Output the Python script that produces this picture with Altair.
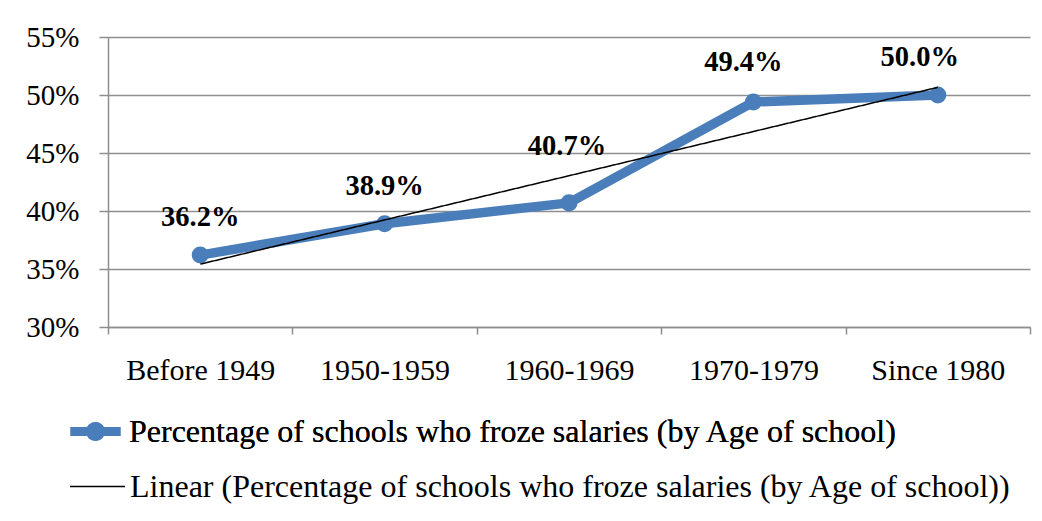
import json
import altair as alt
import pandas as pd

# ---- data ----
categories = ["Before 1949", "1950-1959", "1960-1969", "1970-1979", "Since 1980"]
values = [0.362, 0.389, 0.407, 0.494, 0.500]
y_ticks = [0.30, 0.35, 0.40, 0.45, 0.50, 0.55]
series_name = "Percentage of schools who froze salaries (by Age of school)"
trend_name = "Linear (Percentage of schools who froze salaries (by Age of school))"

df = pd.DataFrame({"category": categories, "value": values,
                   "idx": list(range(1, len(categories) + 1))})

FONT = "Liberation Serif"
BLUE = "#4A7EBB"
GRID = "#8E8E8E"

# label nudges (style only): category -> (dx, dy)
label_offsets = {
    "Before 1949": (0, -38),
    "1950-1959": (0, -38),
    "1960-1969": (-2, -57),
    "1970-1979": (-10, -40),
    "Since 1980": (-18, -38),
}

x_enc = alt.X(
    "category:O", sort=categories,
    scale=alt.Scale(type="band", paddingInner=0, paddingOuter=0),
    axis=alt.Axis(title=None, labelAngle=0, tickBand="extent", tickSize=7,
                  labelPadding=21, grid=False, domainColor=GRID, tickColor=GRID,
                  domainWidth=1.5, tickWidth=1.5, labelFont=FONT,
                  labelFontSize=30, labelColor="black"),
)
y_enc = alt.Y(
    "value:Q",
    scale=alt.Scale(domain=[0.30, 0.55], nice=False, zero=False),
    axis=alt.Axis(title=None, values=y_ticks, format=".0%", tickSize=9,
                  labelPadding=20, grid=True, gridColor=GRID, gridWidth=1.5,
                  domainColor=GRID, tickColor=GRID, domainWidth=1.5, tickWidth=1.5,
                  labelFont=FONT, labelFontSize=29, labelColor="black"),
)

circle_path = ("M-1,0H1M-0.2,0A0.2,0.2 0 1,1 0.2,0"
               "A0.2,0.2 0 1,1 -0.2,0Z")
legend_kw = dict(title=None, orient="none", direction="vertical",
                 labelFont=FONT, labelFontSize=32, labelColor="black",
                 rowPadding=0, padding=0, labelLimit=1000)

color_scale = alt.Scale(domain=[series_name], range=[BLUE])
series_legend = alt.Legend(legendX=-42, legendY=365, symbolType=circle_path,
                           symbolSize=2500, labelOffset=4,
                           symbolStrokeWidth=9, symbolFillColor=BLUE,
                           symbolStrokeColor=BLUE, symbolOpacity=1, **legend_kw)
trend_legend = alt.Legend(legendX=-39, legendY=421, symbolType="M-1,0H1",
                          symbolSize=3025, labelOffset=4,
                          symbolStrokeWidth=1.5, symbolStrokeColor="black",
                          symbolFillColor="transparent", **legend_kw)

base = alt.Chart(df).transform_calculate(series=json.dumps(series_name))

line = base.mark_line(strokeWidth=9.5, strokeJoin="round").encode(
    x=x_enc, y=y_enc,
    color=alt.Color("series:N", scale=color_scale, legend=series_legend),
)
points = base.mark_point(filled=True, size=290, opacity=1).encode(
    x=alt.X("category:O", sort=categories), y="value:Q",
    color=alt.Color("series:N", scale=color_scale, legend=series_legend),
)

trend = alt.Chart(df).transform_regression(
    "idx", "value", extent=[1, len(categories)]
).transform_calculate(
    category=f"{json.dumps(categories)}[datum.idx - 1]",
    series=json.dumps(trend_name),
).mark_line(strokeWidth=1.5, color="black").encode(
    x=alt.X("category:O", sort=categories), y="value:Q",
    strokeDash=alt.StrokeDash("series:N",
                              scale=alt.Scale(domain=[trend_name], range=[[1, 0]]),
                              legend=trend_legend),
)

texts = []
for cat in categories:
    dx, dy = label_offsets[cat]
    texts.append(
        alt.Chart(df).transform_filter(alt.datum.category == cat).mark_text(
            font=FONT, fontSize=28.5, fontWeight="bold", color="black",
            dx=dx, dy=dy, baseline="middle", align="center",
        ).encode(
            x=alt.X("category:O", sort=categories), y="value:Q",
            text=alt.Text("value:Q", format=".1%"),
        )
    )

chart = alt.layer(line, points, trend, *texts).resolve_legend(
    color="independent", strokeDash="independent"
).properties(
    width=922, height=290,
    autosize=alt.AutoSizeParams(type="none"),
    padding={"left": 100, "top": 29, "right": 4, "bottom": 186},
    background="white",
).configure_view(stroke=None).configure_axis(
    labelFont=FONT, labelColor="black",
)

chart.save("out.html", embed_options={"renderer": "svg", "actions": False})
